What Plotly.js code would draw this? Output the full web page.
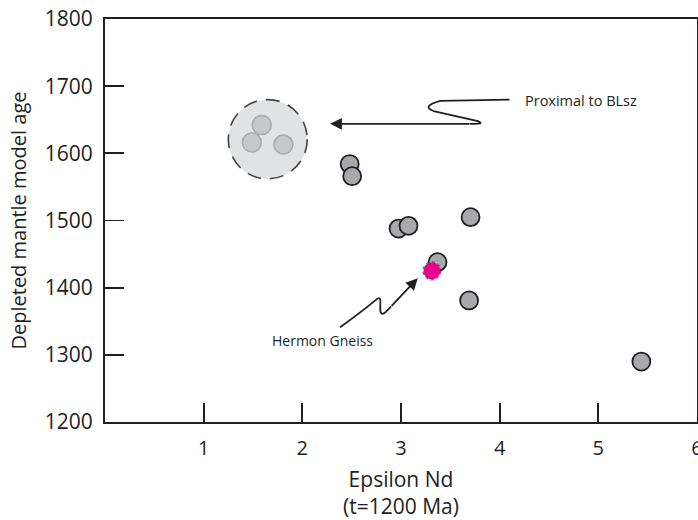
<!DOCTYPE html>
<html>
<head>
<meta charset="utf-8">
<script src="https://cdn.plot.ly/plotly-3.0.1.min.js"></script>
<style>html,body{margin:0;padding:0;background:#fff;}#chart{width:698px;height:520px;}</style>
</head>
<body>
<div id="chart"></div>
<script>
// Samples: Epsilon Nd (t=1200 Ma) vs depleted mantle model age (Ma)
const epsNd = [2.48, 2.505, 2.975, 3.076, 3.705, 3.37, 3.69, 5.436];
const tdmAge = [1584, 1566, 1488, 1492, 1505, 1438, 1381, 1290];
// Samples proximal to BLsz (grouped inside the dashed circle)
const proxEpsNd = [1.589, 1.488, 1.808];
const proxAge = [1642, 1616, 1613];
// Hermon Gneiss
const hermonEpsNd = [3.313];
const hermonAge = [1425];
// Axis ticks
const xTicks = [1, 2, 3, 4, 5, 6];
const yTicks = [1200, 1300, 1400, 1500, 1600, 1700, 1800];

// Annotation geometry (data units)
const groupCircle = {x0: 1.25, x1: 2.05, y0: 1562, y1: 1680};
const proxArrow = {tip: [2.282, 1644], tail: [3.70, 1644]};
const proxLabel = [4.239, 1678];
const hermonArrow = {tip: [3.17, 1414], tail: [2.90, 1372]};
const hermonLabel = [2.201, 1322];

const ink = '#231f20';
const font = 'Open Sans, Noto Sans, sans-serif';

const traces = [
  {
    x: proxEpsNd, y: proxAge, type: 'scatter', mode: 'markers',
    marker: {size: 19, color: '#c7c8ca', line: {color: '#a7a9ac', width: 1.5}},
    hoverinfo: 'x+y', showlegend: false
  },
  {
    x: epsNd, y: tdmAge, type: 'scatter', mode: 'markers',
    marker: {size: 18, color: '#a7a9ac', line: {color: ink, width: 1.8}},
    hoverinfo: 'x+y', showlegend: false
  },
  {
    x: hermonEpsNd, y: hermonAge, type: 'scatter', mode: 'markers',
    marker: {size: 17, color: '#ec008c', line: {color: '#ec008c', width: 0}},
    hoverinfo: 'x+y', showlegend: false
  }
];

function px2(xy) { return xy[0] + ',' + xy[1]; }

// dotted outline around the Hermon Gneiss marker (radius ~9 px)
const hx = hermonEpsNd[0], hy = hermonAge[0];
const rx = 9 / 98.67, ry = 9 / 0.6717;

const shapes = [
  {type: 'circle', xref: 'x', yref: 'y', layer: 'below',
   x0: groupCircle.x0, x1: groupCircle.x1, y0: groupCircle.y0, y1: groupCircle.y1,
   fillcolor: '#e1e2e3', line: {color: '#414042', width: 1.6, dash: '14px,9px'}},
  // Squiggle of the "Proximal to BLsz" pointer
  {type: 'path', xref: 'x', yref: 'y',
   path: 'M ' + px2(proxArrow.tail) + ' L 3.70,1644 Q 3.86,1643 3.78,1648 L 3.33,1663 Q 3.20,1670 3.40,1678 L 4.10,1680',
   line: {color: ink, width: 1.8}},
  // Squiggle of the "Hermon Gneiss" pointer
  {type: 'path', xref: 'x', yref: 'y',
   path: 'M 2.383,1341 Q 2.60,1364 2.74,1381 Q 2.80,1390 2.79,1375 L 2.79,1366 Q 2.80,1356 2.86,1366 L ' + px2(hermonArrow.tail),
   line: {color: ink, width: 1.8}},
  {type: 'circle', xref: 'x', yref: 'y', layer: 'above',
   x0: hx - rx, x1: hx + rx, y0: hy - ry, y1: hy + ry,
   line: {color: '#3a3a3a', width: 1, dash: 'dot'}}
];

const annotations = [
  {x: proxArrow.tip[0], y: proxArrow.tip[1], ax: proxArrow.tail[0], ay: proxArrow.tail[1],
   xref: 'x', yref: 'y', axref: 'x', ayref: 'y', text: ' ', showarrow: true,
   font: {size: 1}, borderpad: 0,
   arrowhead: 2, arrowsize: 1.3, arrowwidth: 1.8, arrowcolor: ink},
  {x: hermonArrow.tip[0], y: hermonArrow.tip[1], ax: hermonArrow.tail[0], ay: hermonArrow.tail[1],
   xref: 'x', yref: 'y', axref: 'x', ayref: 'y', text: ' ', showarrow: true,
   font: {size: 1}, borderpad: 0,
   arrowhead: 2, arrowsize: 1.3, arrowwidth: 1.8, arrowcolor: ink},
  {x: proxLabel[0], y: proxLabel[1], xref: 'x', yref: 'y', text: 'Proximal to BLsz',
   showarrow: false, xanchor: 'left', yanchor: 'middle',
   font: {family: font, size: 14.5, color: ink}},
  {x: hermonLabel[0], y: hermonLabel[1], xref: 'x', yref: 'y', text: 'Hermon Gneiss',
   showarrow: false, xanchor: 'center', yanchor: 'middle',
   font: {family: font, size: 14, color: ink}}
];

const layout = {
  width: 698, height: 520,
  margin: {l: 105, r: 1, t: 19, b: 98, pad: 0},
  paper_bgcolor: '#fff', plot_bgcolor: '#fff',
  showlegend: false,
  font: {family: font, color: ink},
  xaxis: {
    range: [0, 6], tickvals: xTicks, ticktext: xTicks.map(String),
    ticks: 'inside', ticklen: 19, tickwidth: 1.8, tickcolor: ink,
    showline: true, linecolor: ink, linewidth: 2, mirror: true,
    showgrid: false, zeroline: false,
    tickfont: {family: font, size: 20, color: ink},
    ticklabelstandoff: 7, ticklabeloverflow: 'allow',
    title: {text: 'Epsilon Nd<br>(t=1200 Ma)', font: {family: font, size: 21, color: ink}, standoff: 16}
  },
  yaxis: {
    range: [1200, 1800], tickvals: yTicks, ticktext: yTicks.map(String),
    ticks: 'inside', ticklen: 19, tickwidth: 1.8, tickcolor: ink,
    showline: true, linecolor: ink, linewidth: 2, mirror: true,
    showgrid: false, zeroline: false,
    tickfont: {family: font, size: 21, color: ink},
    ticklabelstandoff: 6, ticklabeloverflow: 'allow',
    title: {text: 'Depleted mantle model age', font: {family: font, size: 20, color: ink}, standoff: 13}
  },
  shapes: shapes,
  annotations: annotations
};

Plotly.newPlot('chart', traces, layout, {displayModeBar: false, staticPlot: true});
</script>
</body>
</html>
